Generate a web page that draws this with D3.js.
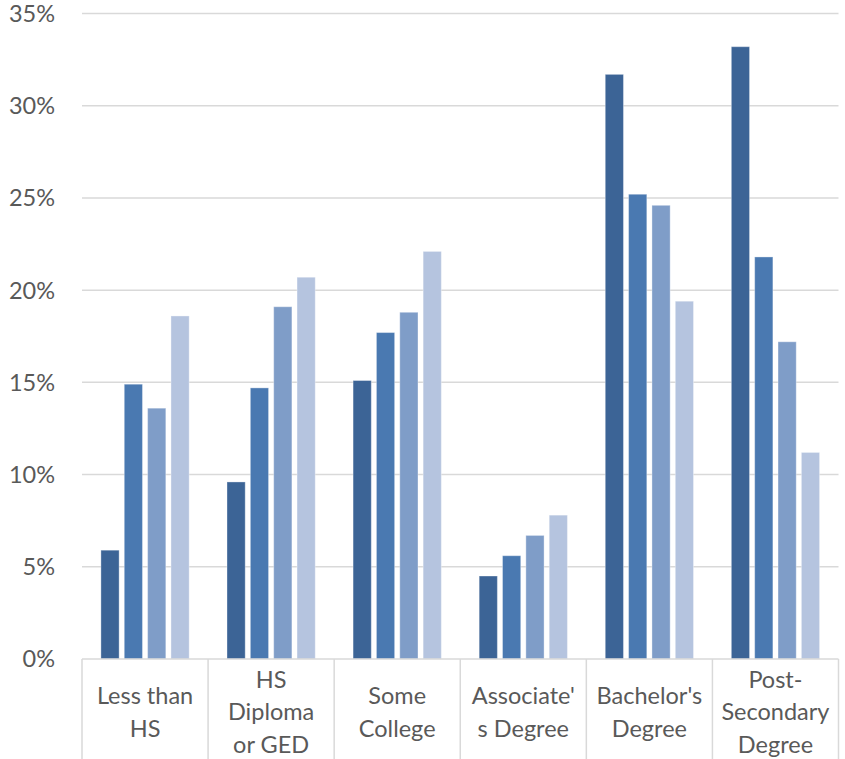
<!DOCTYPE html>
<html>
<head>
<meta charset="utf-8">
<script src="https://cdn.jsdelivr.net/npm/d3@7/dist/d3.min.js"></script>
<style>
  html, body { margin: 0; padding: 0; background: #fff; }
  svg { display: block; }
  text { font-family: Lato, "Open Sans", sans-serif; fill: #595959; }
</style>
</head>
<body>
<svg id="chart" width="845" height="759"></svg>
<script>
// Education level categories (label lines as drawn under the axis)
const categories = ["Less than HS", "HS Diploma or GED", "Some College", "Associate's Degree", "Bachelor's Degree", "Post-Secondary Degree"];
const categoryLines = [
  ["Less than", "HS"],
  ["HS", "Diploma", "or GED"],
  ["Some", "College"],
  ["Associate'", "s Degree"],
  ["Bachelor's", "Degree"],
  ["Post-", "Secondary", "Degree"]
];
// Four series, share in percent per category
const seriesNames = ["Group 1", "Group 2", "Group 3", "Group 4"];
const series1 = [5.9, 9.6, 15.1, 4.5, 31.7, 33.2];
const series2 = [14.9, 14.7, 17.7, 5.6, 25.2, 21.8];
const series3 = [13.6, 19.1, 18.8, 6.7, 24.6, 17.2];
const series4 = [18.6, 20.7, 22.1, 7.8, 19.4, 11.2];
const seriesValues = [series1, series2, series3, series4];
const yTicks = [0, 5, 10, 15, 20, 25, 30, 35];
const colors = ["#3c6496", "#4a79b1", "#7f9dc8", "#b5c4df"];

const svg = d3.select("#chart");
const plotLeft = 82, plotRight = 838.5, plotTop = 13.5, plotBottom = 659;
const fontSize = 23.5;

const x0 = d3.scaleBand().domain(categories).range([plotLeft, plotRight]).paddingInner(0.3).paddingOuter(0.15);
const x1 = d3.scaleBand().domain(seriesNames).range([0, x0.bandwidth()]).paddingInner(0.22);
const y = d3.scaleLinear().domain([0, 35]).range([plotBottom, plotTop]);

// Horizontal gridlines
svg.append("g").selectAll("line").data(yTicks.slice(1)).join("line")
  .attr("x1", plotLeft).attr("x2", plotRight)
  .attr("y1", d => y(d)).attr("y2", d => y(d))
  .attr("stroke", "#d9d9d9").attr("stroke-width", 1.5);

// Y axis labels
svg.append("g").selectAll("text").data(yTicks).join("text")
  .attr("x", 55).attr("y", d => y(d))
  .attr("dy", "0.36em")
  .attr("text-anchor", "end")
  .attr("font-size", fontSize)
  .text(d => d + "%");

// Bars
const rows = categories.map((c, i) => ({ cat: c, vals: seriesNames.map((s, j) => ({ s, v: seriesValues[j][i], j })) }));
svg.append("g").selectAll("g").data(rows).join("g")
  .attr("transform", d => `translate(${x0(d.cat)},0)`)
  .selectAll("rect").data(d => d.vals).join("rect")
  .attr("x", d => x1(d.s))
  .attr("width", x1.bandwidth())
  .attr("y", d => y(d.v))
  .attr("height", d => y(0) - y(d.v))
  .attr("fill", d => colors[d.j])
  .attr("stroke", "#ffffff").attr("stroke-opacity", 0.35).attr("stroke-width", 1);

// Category axis line and separators
svg.append("line").attr("x1", plotLeft).attr("x2", plotRight).attr("y1", plotBottom).attr("y2", plotBottom)
  .attr("stroke", "#d9d9d9").attr("stroke-width", 1.5);
const seps = d3.range(categories.length + 1).map(i => plotLeft + i * (plotRight - plotLeft) / categories.length);
svg.append("g").selectAll("line").data(seps).join("line")
  .attr("x1", d => d).attr("x2", d => d)
  .attr("y1", plotBottom).attr("y2", 759)
  .attr("stroke", "#d9d9d9").attr("stroke-width", 1.5);

// Category labels
const lineH = 32.5;
svg.append("g").selectAll("text").data(categories).join("text")
  .attr("text-anchor", "middle")
  .attr("font-size", fontSize)
  .each(function(c, i) {
    const lines = categoryLines[i];
    const cx = x0(c) + x0.bandwidth() / 2;
    const cy = 712 - (lines.length - 1) * lineH / 2;
    d3.select(this).selectAll("tspan").data(lines).join("tspan")
      .attr("x", cx).attr("y", (d, k) => cy + k * lineH)
      .attr("dy", "0.36em")
      .text(d => d);
  });
</script>
</body>
</html>
